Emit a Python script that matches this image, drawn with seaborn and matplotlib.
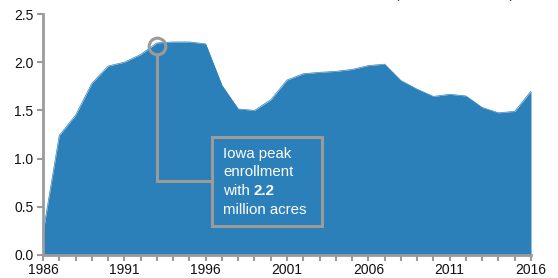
import matplotlib
matplotlib.use("Agg")
import matplotlib.pyplot as plt
import seaborn as sns
import pandas as pd
from matplotlib.patches import Rectangle

years = list(range(1986, 2017))
acres = [0.23, 1.24, 1.45, 1.78, 1.96, 2.00, 2.08, 2.20, 2.21, 2.21, 2.19,
         1.76, 1.515, 1.50, 1.61, 1.815, 1.88, 1.895, 1.905, 1.925, 1.965,
         1.98, 1.81, 1.72, 1.645, 1.667, 1.65, 1.53, 1.475, 1.49, 1.70]
yticks = [0.0, 0.5, 1.0, 1.5, 2.0, 2.5]
xticks = [1986, 1991, 1996, 2001, 2006, 2011, 2016]
peak_year, peak_value = 1993, 2.17

df = pd.DataFrame({"year": years, "acres": acres})

sns.set_style("white")
plt.rcParams["font.family"] = ["Liberation Sans", "DejaVu Sans"]

blue = "#2c80b9"
grey = "#9b9b9b"

fig = plt.figure(figsize=(5.58, 2.78), dpi=100)
ax = fig.add_axes([43/558, 1-255/278, (531-43)/558, (255-14)/278])

sns.lineplot(data=df, x="year", y="acres", ax=ax, color=blue, lw=0.5)
ax.fill_between(df["year"], df["acres"], color=blue, lw=0)

ax.set_xlim(1986, 2016)
ax.set_ylim(0, 2.5)
ax.set_xticks(xticks)
ax.set_xticks(years, minor=True)
ax.set_yticks(yticks)
ax.set_yticklabels([f"{v:.1f}" for v in yticks])
ax.set_xlabel("")
ax.set_ylabel("")
for s in ["top", "right"]:
    ax.spines[s].set_visible(False)
for s in ["left", "bottom"]:
    ax.spines[s].set_color(grey)
    ax.spines[s].set_linewidth(2)
ax.tick_params(axis="both", which="both", direction="out", color=grey,
               width=1.5, length=4, labelsize=10, labelcolor="#111111", bottom=True, left=True)
ax.tick_params(axis="x", which="major", pad=2)
ax.tick_params(axis="y", which="major", pad=3)

# annotation: circle + connector
ax.plot([peak_year], [peak_value], marker="o", ms=12, mfc="none", mec=grey, mew=2.2, zorder=5)
ax.plot([peak_year, peak_year, 1996.4], [peak_value - 0.085, 0.77, 0.77], color=grey, lw=2.2,
        zorder=4, solid_joinstyle="miter")

box = Rectangle((212/558, 1-226/278), (322-212)/558, (226-137)/278, transform=fig.transFigure,
                facecolor=blue, edgecolor=grey, lw=2.2, zorder=6)
fig.patches.append(box)

tx = 223/558
fs = 10.8
kw = dict(color="white", fontsize=fs, va="baseline", ha="left", zorder=8)
fig.text(tx, 1-158/278, "Iowa peak", **kw)
fig.text(tx, 1-176.5/278, "enrollment", **kw)
fig.text(tx, 1-195/278, "with ", **kw)
fig.text(254/558, 1-195/278, "2.2", fontweight="bold", **kw)
fig.text(tx, 1-213.5/278, "million acres", **kw)

# clipped title at top
fig.text(395/558, 1 + 2/278, "(in millions of acres)", fontsize=9.6, va="baseline", ha="left",
         color="#222222")

fig.savefig("out.png", dpi=100)
